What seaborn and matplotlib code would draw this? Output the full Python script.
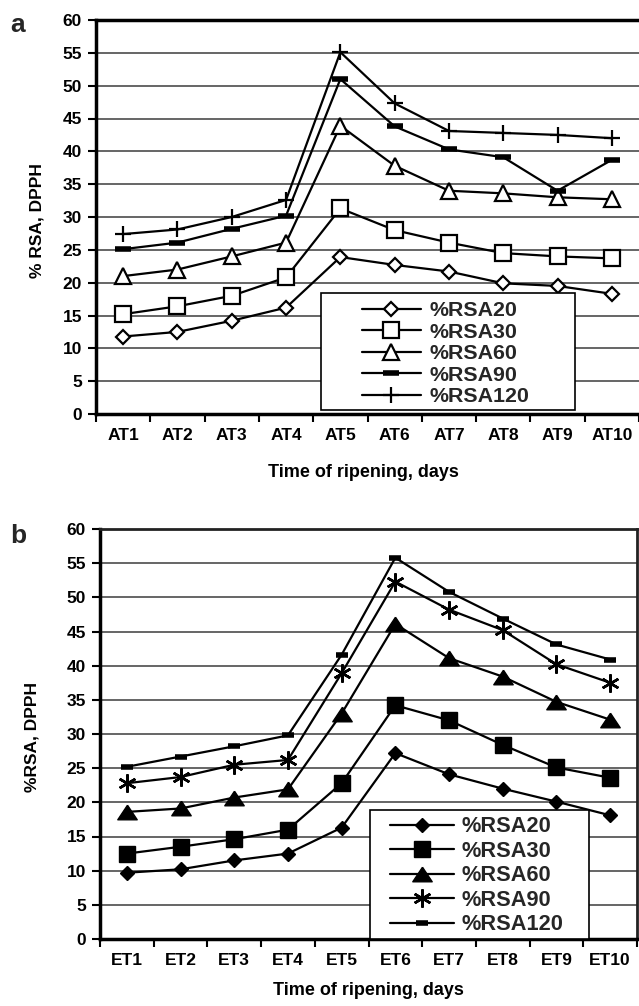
import numpy as np
import pandas as pd
import matplotlib
matplotlib.use("Agg")
import matplotlib.pyplot as plt
import seaborn as sns
from matplotlib.patches import Rectangle

# ---------------- data ----------------
days_a = ["AT1", "AT2", "AT3", "AT4", "AT5", "AT6", "AT7", "AT8", "AT9", "AT10"]
days_b = ["ET1", "ET2", "ET3", "ET4", "ET5", "ET6", "ET7", "ET8", "ET9", "ET10"]
series_names = ["%RSA20", "%RSA30", "%RSA60", "%RSA90", "%RSA120"]

a_rsa20 = [11.8, 12.5, 14.2, 16.2, 23.9, 22.7, 21.7, 19.9, 19.5, 18.3]
a_rsa30 = [15.2, 16.4, 18.0, 20.8, 31.3, 28.0, 26.1, 24.5, 24.0, 23.7]
a_rsa60 = [21.0, 22.0, 24.0, 26.1, 43.9, 37.8, 34.0, 33.6, 33.0, 32.7]
a_rsa90 = [25.1, 26.1, 28.2, 30.2, 51.0, 43.8, 40.3, 39.1, 34.0, 38.7]
a_rsa120 = [27.4, 28.1, 30.0, 32.6, 55.1, 47.3, 43.1, 42.8, 42.5, 42.0]

b_rsa20 = [9.7, 10.2, 11.5, 12.5, 16.3, 27.2, 24.1, 22.0, 20.1, 18.1]
b_rsa30 = [12.5, 13.5, 14.6, 16.0, 22.8, 34.2, 32.0, 28.4, 25.1, 23.6]
b_rsa60 = [18.6, 19.1, 20.7, 21.9, 33.0, 46.1, 41.1, 38.4, 34.7, 32.1]
b_rsa90 = [22.8, 23.7, 25.5, 26.2, 38.9, 52.3, 48.2, 45.2, 40.2, 37.5]
b_rsa120 = [25.2, 26.7, 28.2, 29.8, 41.6, 55.8, 50.8, 46.9, 43.1, 40.9]

y_ticks = list(range(0, 61, 5))

# ---------------- style ----------------
sns.set_theme(style="ticks")
plt.rcParams["font.family"] = ["Liberation Sans", "DejaVu Sans"]
plt.rcParams["font.weight"] = "bold"

fig = plt.figure(figsize=(6.39, 10.06), dpi=100)
W, H = 639, 1006
ax_a = fig.add_axes([96 / W, (H - 414) / H, 543 / W, 394 / H])
ax_b = fig.add_axes([100 / W, (H - 939) / H, 537 / W, 410 / H])

tri_b = [(0, 0.75), (-1, -0.75), (1, -0.75), (0, 0.75)]

styles_a = [
    dict(marker="D", ms=7, mfc="white", mew=1.6),
    dict(marker="s", ms=11.5, mfc="white", mew=1.6),
    dict(marker="^", ms=11, mfc="white", mew=1.6),
    dict(marker="_", ms=11.5, mew=4),
    dict(marker="+", ms=11.5, mew=1.6),
]
styles_b = [
    dict(marker="D", ms=7.2, mfc="black", mew=1),
    dict(marker="s", ms=12, mfc="black", mew=1),
    dict(marker=tri_b, ms=14, mfc="black", mew=1),
    dict(marker=(6, 2, 0), ms=13, mew=1.8),
    dict(marker="_", ms=8.5, mew=4),
]


def draw_panel(ax, days, series, styles):
    df = pd.DataFrame({"day": days})
    for name, vals, st in zip(series_names, series, styles):
        df[name] = vals
        sns.lineplot(data=df, x="day", y=name, ax=ax, sort=False,
                     color="black", lw=1.6, mec="black", label=name,
                     legend=False, **st)
    ax.set_xlim(-0.5, 9.5)
    ax.set_ylim(0, 60)
    ax.set_yticks(y_ticks)
    ax.set_xticks(np.arange(-0.5, 10, 1), minor=True)
    ax.yaxis.grid(True, color="#3c3c3c", lw=1.1)
    ax.set_axisbelow(True)
    ax.tick_params(axis="x", which="major", length=0, pad=10,
                   labelsize=12.5)
    ax.tick_params(axis="x", which="minor", length=6, width=1.5,
                   direction="out", color="black", bottom=True)
    ax.tick_params(axis="y", length=6, width=1.5, direction="out",
                   color="black", pad=4, labelsize=12.5, left=True)
    for lab in ax.get_xticklabels() + ax.get_yticklabels():
        lab.set_fontweight("bold")
        lab.set_color("black")
    ax.set_xlabel("Time of ripening, days", fontsize=13, fontweight="bold",
                  color="black")


draw_panel(ax_a, days_a, [a_rsa20, a_rsa30, a_rsa60, a_rsa90, a_rsa120], styles_a)
draw_panel(ax_b, days_b, [b_rsa20, b_rsa30, b_rsa60, b_rsa90, b_rsa120], styles_b)

# spines
for side in ["left", "bottom", "top"]:
    ax_a.spines[side].set_linewidth(2.5)
    ax_a.spines[side].set_color("black")
ax_a.spines["right"].set_visible(False)
for side in ["left", "bottom"]:
    ax_b.spines[side].set_linewidth(2.5)
    ax_b.spines[side].set_color("black")
for side in ["top", "right"]:
    ax_b.spines[side].set_visible(True)
    ax_b.spines[side].set_linewidth(2)
    ax_b.spines[side].set_color("#222222")

# axis labels
ax_a.set_ylabel("% RSA, DPPH", fontsize=12.5, fontweight="bold", color="black")
ax_b.set_ylabel("%RSA, DPPH", fontsize=12.5, fontweight="bold", color="black")
ax_a.yaxis.set_label_coords(-0.095, 0.49)
ax_b.yaxis.set_label_coords(-0.112, 0.493)
ax_a.xaxis.set_label_coords(0.492, -0.127)
ax_b.xaxis.set_label_coords(0.5, -0.106)

# legend boxes
ax_a.add_patch(Rectangle((0.4138, 0.0102), 0.8821 - 0.4138, 0.3079 - 0.0102,
                         transform=ax_a.transAxes, facecolor="white",
                         edgecolor="black", lw=1.2, zorder=3))
ax_b.add_patch(Rectangle((0.5028, 0.0), 0.9106 - 0.5028, 0.3146,
                         transform=ax_b.transAxes, facecolor="white",
                         edgecolor="black", lw=1.2, zorder=3))

ax_a.legend(loc="upper left", bbox_to_anchor=(0.4893, 0.2863),
            borderaxespad=0, borderpad=0, frameon=False, labelspacing=0.12,
            handlelength=2.75, handletextpad=0.42,
            prop=dict(family=["Liberation Sans"], weight="bold", size=15.4))
ax_b.legend(loc="upper left", bbox_to_anchor=(0.54, 0.2993),
            borderaxespad=0, borderpad=0, frameon=False, labelspacing=0.16,
            handlelength=2.95, handletextpad=0.35,
            prop=dict(family=["Liberation Sans"], weight="bold", size=15.7))

# panel letters
fig.text(18 / W, 1 - 31.7 / H, "a", ha="center", va="baseline",
         fontsize=19, fontweight="bold")
fig.text(18 / W, 1 - 543 / H, "b", ha="center", va="baseline",
         fontsize=19, fontweight="bold")

fig.savefig("out.png", dpi=100, facecolor="white")
